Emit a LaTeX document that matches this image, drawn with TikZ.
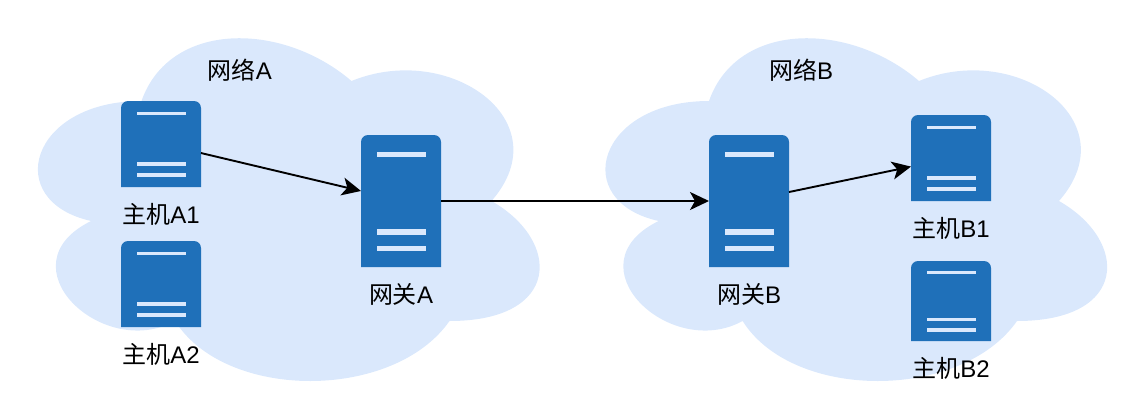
\documentclass[tikz,border=0pt]{standalone}
\usepackage{fontspec}
\setmainfont{Liberation Sans}
\newfontfamily\cjk{Noto Sans CJK SC}
\usetikzlibrary{arrows.meta,calc}

\definecolor{cloudblue}{HTML}{DAE8FC}
\definecolor{serverblue}{HTML}{1F70B9}

\tikzset{
  serverbox/.style={minimum width=80pt,inner sep=0pt,outer sep=0pt},
  hostlabel/.style={font=\fontsize{24}{28}\selectfont,inner sep=0pt},
  link/.style={line width=1.9pt,-{Stealth[length=19pt,width=18pt,inset=5pt]}}
}

% name, centre x, centre y, height
\newcommand{\serverunit}[4]{
  \node[serverbox,minimum height=#4pt] (#1) at (#2,#3) {};
  \fill[serverblue] (#1.south west) [rounded corners=7pt] |- (#1.north east) [sharp corners] -- (#1.south east) -- cycle;
  \foreach \f in {0.148,0.735,0.862}
    \fill[cloudblue] ($(#1.north west)!\f!(#1.south west)+(16,{-0.02*#4})$) rectangle +(49,{0.04*#4});
}

% left, top
\newcommand{\cloudpatch}[2]{
  \fill[cloudblue,shift={(#1,#2)},x=560pt,y=-400pt]
    (0.25,0.25) .. controls (0.05,0.25) and (0,0.5) .. (0.16,0.55)
    .. controls (0,0.66) and (0.18,0.9) .. (0.31,0.8)
    .. controls (0.4,1) and (0.7,1) .. (0.8,0.8)
    .. controls (1,0.8) and (1,0.6) .. (0.875,0.5)
    .. controls (1,0.3) and (0.8,0.1) .. (0.625,0.2)
    .. controls (0.5,0.05) and (0.3,0.05) .. (0.25,0.25) -- cycle;
}

\begin{document}
\begin{tikzpicture}[x=1pt,y=-1pt]
\useasboundingbox (0,0) rectangle (1130,402);

% Clouds
\cloudpatch{1.5}{1}
\cloudpatch{569}{1}

% Network A
\serverunit{hostAone}{161}{144}{86}
\serverunit{hostAtwo}{161}{284}{86}
\serverunit{gateA}{401}{201}{132}
\node[hostlabel] (netA) at (240,70) {{\cjk 网络}A};
\node[hostlabel] (labelAone) at (161,214) {{\cjk 主机}A1};
\node[hostlabel] (labelAtwo) at (161,354) {{\cjk 主机}A2};
\node[hostlabel] (labelgateA) at (401,294) {{\cjk 网关}A};

% Network B
\serverunit{gateB}{749}{201}{132}
\serverunit{hostBone}{951}{158}{86}
\serverunit{hostBtwo}{951}{301}{80}
\node[hostlabel] (netB) at (801,70) {{\cjk 网络}B};
\node[hostlabel] (labelgateB) at (749,294) {{\cjk 网关}B};
\node[hostlabel] (labelBone) at (951,228) {{\cjk 主机}B1};
\node[hostlabel] (labelBtwo) at (951,368) {{\cjk 主机}B2};

% Connectors
\coordinate (outAone) at ($(hostAone.south east)!0.395!(hostAone.north east)$);
\coordinate (inA) at ($(gateA.south west)!0.576!(gateA.north west)$);
\coordinate (outB) at ($(gateB.south east)!0.568!(gateB.north east)$);
\coordinate (inBone) at ($(hostBone.south west)!0.4!(hostBone.north west)$);
\draw[link] (outAone) -- (inA);
\draw[link] (gateA.east) -- (gateB.west);
\draw[link] (outB) -- (inBone);

\end{tikzpicture}
\end{document}
